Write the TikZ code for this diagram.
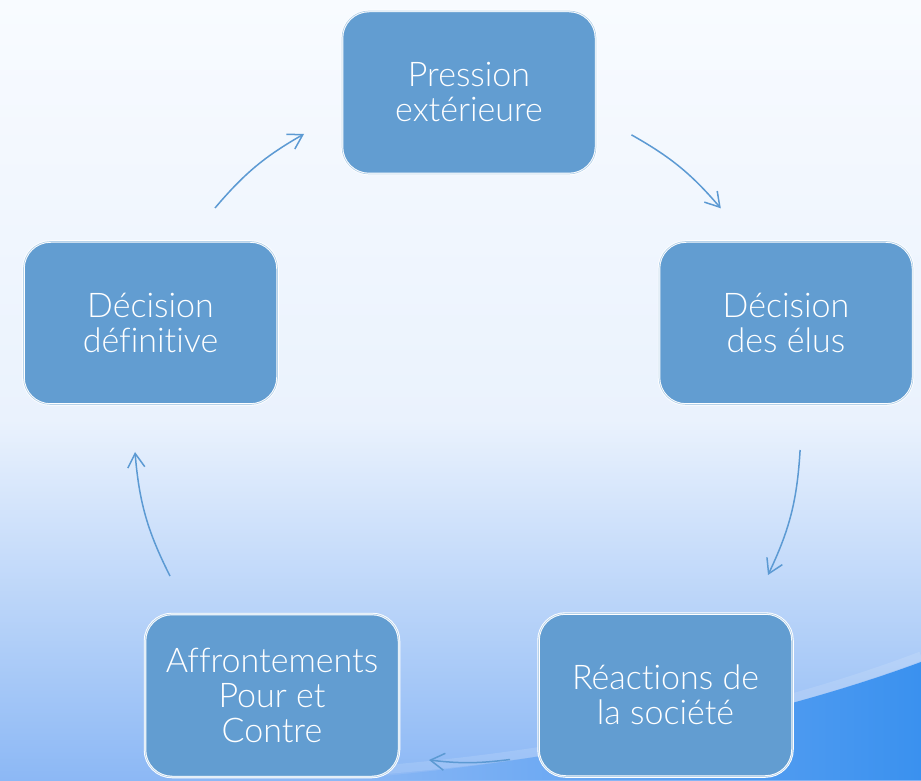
\documentclass[tikz,border=0pt]{standalone}
\usepackage{fontspec}
\setmainfont{Lato}[UprightFont=* Light, Ligatures={NoCommon,NoRequired}]
\usetikzlibrary{arrows.meta}
\definecolor{boite}{RGB}{98,157,209}
\definecolor{fleche}{RGB}{92,154,211}
\definecolor{ciel}{RGB}{248,251,255}
\definecolor{ciel2}{RGB}{234,242,253}
\definecolor{ciel3}{RGB}{140,184,245}
\definecolor{vague}{RGB}{58,145,239}
\definecolor{vague2}{RGB}{98,163,242}

\begin{document}
\begin{tikzpicture}[x=1pt,y=1pt,
    etape/.style={draw=white, line width=0.9pt, double=boite!45, double distance=0.7pt,
        fill=boite, rounded corners=27pt, minimum width=254pt, minimum height=163pt,
        inner sep=0pt, align=center, text=white, font=\fontsize{34}{35}\selectfont},
    pil/.style={draw=fleche, line width=1.5pt, -{Straight Barb[length=14pt,width=17pt]}}]
    % fond
    \useasboundingbox (0,0) rectangle (921,780);
    \shade[top color=ciel, bottom color=ciel2] (0,360) rectangle (921,780);
    \shade[top color=ciel2, bottom color=ciel3] (0,0) rectangle (921,360);
    \shade[left color=ciel3, middle color=vague2, right color=vague] (340,0) .. controls (560,18) and (770,62) .. (921,118) -- (921,0) -- cycle;
    \draw[white, opacity=0.12, line width=9pt] (380,10) .. controls (580,26) and (780,70) .. (921,124);

    % les etapes
    \node[etape] (pres) at (469,687.5) {Pression\\extérieure};
    \node[etape] (elus) at (786,457) {Décision\\des élus};
    \node[etape] (soc) at (665.5,85) {Réactions de\\la société};
    \node[etape] (aff) at (272,84.5) {Affrontements\\Pour et\\Contre};
    \node[etape] (def) at (150.5,457) {Décision\\définitive};

    % bouts des fleches
    \coordinate (p1) at (631.5,645.1);
    \coordinate (q1) at (720.8,571.7);
    \coordinate (p2) at (800.1,330);
    \coordinate (q2) at (768,205);
    \coordinate (p3) at (510,20.5);
    \coordinate (q3) at (429,20);
    \coordinate (p4) at (170,204);
    \coordinate (q4) at (135,328);
    \coordinate (p5) at (215,572);
    \coordinate (q5) at (304,646);

    \draw[pil] (p1) to[bend left=10] (q1);
    \draw[pil] (p2) to[bend left=11] (q2);
    \draw[pil] (p3) to[bend left=7] (q3);
    \draw[pil] (p4) to[bend left=11] (q4);
    \draw[pil] (p5) to[bend left=10] (q5);
\end{tikzpicture}
\end{document}
